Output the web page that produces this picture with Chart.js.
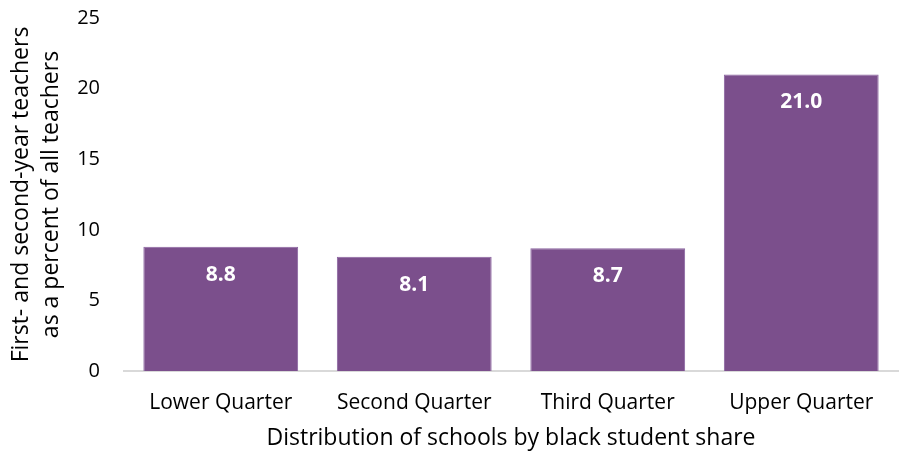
<!DOCTYPE html>
<html>
<head>
<meta charset="utf-8">
<script src="https://cdn.jsdelivr.net/npm/chart.js@4"></script>
<style>
  html, body { margin: 0; padding: 0; background: #fff; }
  #wrap { width: 909px; height: 453px; }
</style>
</head>
<body>
<div id="wrap"><canvas id="teacherChart"></canvas></div>
<script>
// quartiles of schools by black student share
const quarters = ['Lower Quarter', 'Second Quarter', 'Third Quarter', 'Upper Quarter'];
// first- and second-year teachers, percent of all teachers
const newTeacherPct = [8.8, 8.1, 8.7, 21.0];
const yTicks = [0, 5, 10, 15, 20, 25];

const FONT = '"Open Sans", sans-serif';
const PURPLE = '#7b4f8c';

// white value labels sitting just inside the top of each bar
const barValueLabels = {
  id: 'barValueLabels',
  afterDatasetsDraw(chart) {
    const ctx = chart.ctx;
    const meta = chart.getDatasetMeta(0);
    ctx.save();
    ctx.fillStyle = '#ffffff';
    ctx.font = 'bold 21px ' + FONT;
    ctx.textAlign = 'center';
    ctx.textBaseline = 'middle';
    meta.data.forEach((bar, i) => {
      ctx.fillText(newTeacherPct[i].toFixed(1), bar.x, bar.y + 28);
    });
    ctx.restore();
  }
};

new Chart(document.getElementById('teacherChart'), {
  type: 'bar',
  data: {
    labels: quarters,
    datasets: [{
      data: newTeacherPct,
      backgroundColor: PURPLE,
      borderColor: '#8a63a0',
      borderWidth: 1,
      barPercentage: 0.8,
      categoryPercentage: 1
    }]
  },
  options: {
    responsive: true,
    maintainAspectRatio: false,
    animation: false,
    layout: { padding: { top: 18, right: 11, bottom: 0, left: 7 } },
    plugins: {
      legend: { display: false },
      tooltip: { enabled: false }
    },
    scales: {
      x: {
        afterFit(axis) { axis.height = 82; },
        grid: { display: false },
        border: { display: true, color: '#d9d9d9', width: 2 },
        ticks: { color: '#000', font: { family: FONT, size: 21 }, padding: 11 },
        title: {
          display: true,
          text: 'Distribution of schools by black student share',
          color: '#000',
          font: { family: FONT, size: 23 },
          padding: { top: 4, bottom: 1 }
        }
      },
      y: {
        min: 0,
        max: 25,
        afterFit(axis) {
          axis.width = 117;
          axis.paddingTop = 0;
          axis.paddingBottom = 0;
        },
        afterBuildTicks(axis) { axis.ticks = yTicks.map(v => ({ value: v })); },
        grid: { display: false },
        border: { display: false },
        ticks: { color: '#000', font: { family: FONT, size: 20 }, padding: 16 },
        title: {
          display: true,
          text: ['First- and second-year teachers', 'as a percent of all teachers'],
          color: '#000',
          font: { family: FONT, size: 23, lineHeight: 1.3 },
          padding: { top: 0, bottom: 10 }
        }
      }
    }
  },
  plugins: [barValueLabels]
});
</script>
</body>
</html>
